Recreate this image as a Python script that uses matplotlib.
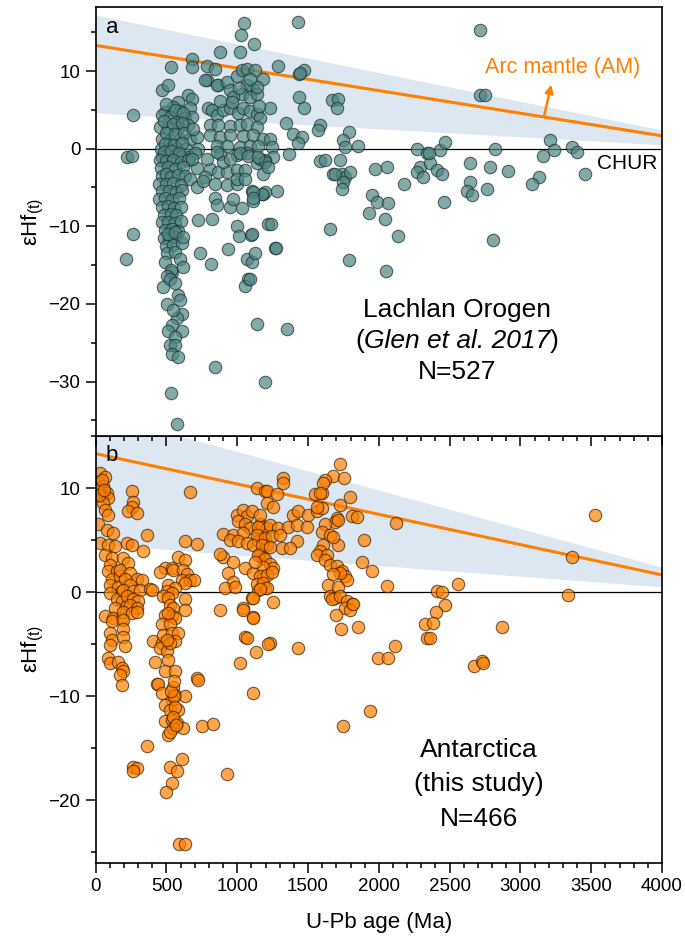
import numpy as np
import matplotlib
matplotlib.use('Agg')
import matplotlib.pyplot as plt
from matplotlib.ticker import MultipleLocator

plt.rcParams['font.family'] = ['Liberation Sans', 'DejaVu Sans']
plt.rcParams['mathtext.fontset'] = 'custom'
plt.rcParams['mathtext.rm'] = 'Liberation Sans'
plt.rcParams['mathtext.it'] = 'Liberation Sans:italic'

# ---- data: (U-Pb age Ma, eHf(t)) ----
# Lachlan Orogen (Glen et al. 2017)
lachlan_young = [(219, -1.1), (254, -0.95), (266, 4.3), (266, -11.0), (214, -14.2)]

lachlan_column = [
    (471, 7.6), (509, 8.2), (532, 10.5), (654, 6.9), (678, 6.4), (584, 6.0), (548, 5.4), (490, 4.7),
    (596, 4.9), (667, 5.2), (466, 4.3), (525, 4.1), (572, 3.6), (631, 3.9), (678, 4.1), (454, 2.8),
    (513, 2.6), (584, 2.6), (654, 3.0), (466, 1.3), (525, 1.1), (596, 1.3), (667, 1.3), (713, 1.5),
    (459, 0.0), (518, 0.0), (572, 0.0), (637, 0.0), (720, 0.0), (470, -1.1), (540, -1.1), (600, -1.1),
    (660, -1.1), (500, 5.8), (560, 5.0), (620, 4.6), (480, 3.5), (545, 3.2), (610, 3.3), (500, 2.0),
    (560, 1.9), (625, 2.0), (490, 0.6), (550, 0.5), (610, 0.7), (480, -0.4), (530, -0.3), (585, -0.5),
    (690, 2.5), (700, -0.6),
    (455, -1.5), (500, -1.6), (545, -1.4), (600, -1.7), (650, -1.5),
    (460, -2.5), (510, -2.4), (560, -2.6), (620, -2.4),
    (470, -3.5), (495, -3.3), (530, -3.6), (580, -3.4), (630, -3.5),
    (450, -4.5), (500, -4.6), (545, -4.4), (600, -4.7),
    (470, -5.5), (520, -5.4), (570, -5.6), (610, -5.3),
    (450, -6.5), (490, -6.4), (540, -6.6), (585, -6.3),
    (465, -7.5), (510, -7.4), (555, -7.6), (600, -7.5),
    (480, -8.5), (530, -8.4), (570, -8.6),
    (470, -9.5), (510, -9.4), (560, -9.6), (600, -9.3),
    (490, -10.5), (540, -10.4), (580, -10.6),
    (480, -11.5), (520, -11.6), (560, -11.4),
    (500, -12.5), (545, -12.4),
    (513, -11.0), (560, -10.7), (501, -13.5), (560, -13.3), (608, -12.2), (620, -11.4), (596, -14.2),
    (615, -15.3), (490, -14.6), (537, -15.9), (530, -15.6), (505, -16.4), (478, -17.8), (525, -16.8),
    (560, -17.3), (501, -20.0), (584, -18.9), (596, -19.5), (608, -21.3), (571, -21.8), (548, -20.8),
    (537, -22.7), (513, -23.5), (608, -23.5), (560, -24.2), (525, -25.3), (560, -25.3), (537, -26.4),
    (584, -26.8), (530, -31.5), (571, -35.4),
]

lachlan_meso = [
    (678, 11.6), (678, 10.5), (784, 10.7), (843, 10.3), (879, 12.4), (1020, 12.4), (1027, 14.6),
    (1048, 16.2), (1119, 13.5), (784, 8.9), (866, 8.2), (772, 8.9), (855, 8.2), (925, 8.6), (949, 7.5),
    (996, 9.4), (1032, 10.1), (1067, 10.3), (1126, 10.1), (1180, 9.0), (1114, 7.7), (1067, 8.2),
    (1032, 7.1), (973, 6.6), (1091, 6.6), (1138, 7.1), (1138, 7.9), (1291, 10.7),
    (796, 5.2), (820, 5.0), (855, 4.3), (902, 5.0), (949, 5.2), (1008, 4.6), (1043, 5.2), (1091, 4.8),
    (1138, 4.4), (1161, 4.0), (1232, 5.2), (880, 6.2), (960, 6.0), (1010, 7.8), (1090, 9.0), (1150, 5.5),
    (808, 3.0), (866, 3.1), (949, 2.9), (1020, 3.0), (1067, 3.2), (1138, 2.8),
    (808, 1.7), (878, 1.5), (949, 1.8), (1043, 1.6), (1114, 1.7), (1185, 1.3), (1232, 1.3),
    (855, 0.3), (925, 0.4), (1020, 0.2), (1091, 0.3), (1149, 0.4), (1244, 0.2),
    (878, -0.7), (996, -0.8), (1067, -0.6), (1255, -1.1),
    (713, -2.5), (808, -2.6), (866, -3.0), (925, -3.0), (996, -2.8), (1055, -2.7), (1137, -1.9),
    (1196, -1.5), (772, -3.7), (678, -1.3), (784, -1.3), (902, -1.7), (949, -1.3), (1020, -0.6),
    (1078, -0.9), (1161, -1.3), (855, -0.4), (1196, -1.7), (1149, -1.1), (1185, -3.2), (1220, -2.4),
    (667, -3.9), (713, -4.9), (761, -4.2), (843, -4.5), (925, -4.7), (996, -4.5), (996, -3.9),
    (1055, -3.9), (1102, -5.4), (1185, -5.8), (1279, -5.4), (1196, -5.6), (1173, -5.8), (1114, -5.6),
    (1114, -6.7), (843, -6.4), (855, -7.2), (949, -7.5), (1032, -7.7), (973, -6.5), (1114, -6.4),
    (1220, -9.7), (725, -9.2), (820, -9.1), (737, -13.5), (813, -14.8), (937, -12.9), (996, -10.0),
    (1013, -11.2), (1095, -11.1), (1067, -14.2), (1102, -14.6), (1126, -13.5), (1078, -16.8),
    (1055, -17.7), (1102, -11.0), (1142, -22.6), (1354, -23.2), (1267, -12.8), (843, -28.1),
    (1196, -30.0), (1237, -9.7), (1272, -12.8), (1091, -16.8),
]

lachlan_paleo = [
    (1432, 16.3), (1472, 10.1), (1437, 9.6), (1444, 9.7), (1439, 6.6), (1472, 5.2), (1346, 3.3),
    (1397, 1.9), (1456, 1.5), (1432, 0.7), (1368, -0.7), (1668, 6.3), (1708, 6.4), (1703, 5.2),
    (1585, 3.0), (1573, 2.4), (1792, 2.1), (1750, 1.1), (1762, 0.2), (1856, 0.3), (1585, -1.6),
    (1620, -1.5), (1727, -1.4), (1679, -3.3), (1739, -3.2), (1762, -3.7), (1797, -3.0), (1750, -4.3),
    (1739, -5.2), (1974, -2.6), (2061, -2.3), (2181, -4.5), (1950, -6.0), (1986, -6.9), (2068, -7.0),
    (1927, -8.3), (2045, -9.0), (2138, -11.2), (1656, -10.4), (1792, -14.3), (2050, -15.7), (1691, -3.2),
]

lachlan_archean = [
    (2268, 0.0), (2338, -0.6), (2292, -2.4), (2268, -3.0), (2313, -3.7), (2362, -1.9), (2410, -2.8),
    (2445, -3.2), (2431, -0.2), (2468, 0.9), (2351, -0.6), (2457, -6.9), (2716, 15.3), (2716, 6.9),
    (2751, 6.9), (3210, 1.1), (3234, -0.2), (3163, -0.9), (3364, 0.2), (3399, -0.4), (3458, -3.2),
    (3128, -3.6), (3081, -4.5), (2817, -0.1), (2782, -2.4), (2909, -2.9), (2767, -5.2), (2803, -11.7),
    (2645, -1.9), (2645, -4.3), (2622, -5.4), (2657, -6.0),
]

# Antarctica (this study)
antarctica_young = [
    (30, 11.4), (66, 11.1), (18, 10.6), (54, 10.2), (30, 9.8), (78, 9.5), (42, 9.2), (89, 9.0),
    (54, 8.6), (66, 7.9), (89, 7.4), (18, 6.5), (78, 6.0), (124, 5.7), (30, 4.7), (89, 4.5), (136, 4.4),
    (66, 3.6), (113, 3.3), (101, 2.6), (89, 2.0), (148, 2.0), (113, 1.3), (172, 1.5), (101, 0.7),
    (160, 0.5), (101, -0.1), (184, 0.1), (148, -0.7), (184, -0.9), (136, -1.5), (219, -1.2), (66, -2.3),
    (124, -2.5), (184, -2.5), (10, 10.0), (45, 10.8), (25, 9.3), (60, 9.8),
    (254, 9.7), (266, 8.7), (254, 8.2), (231, 7.8), (290, 7.6), (219, 4.7), (254, 4.5), (337, 3.9),
    (195, 3.3), (231, 2.8), (172, 2.1), (242, 1.8), (207, 1.3), (290, 1.3), (325, 1.2), (242, 0.7),
    (195, 0.2), (266, 0.1), (313, 0.2), (384, 0.3), (219, -0.4), (266, -0.7), (301, -0.9), (242, -1.2),
    (290, -1.5), (195, -1.9), (254, -2.0), (360, 5.5), (396, 0.2),
    (113, -2.8), (195, -2.7), (195, -3.5), (101, -3.9), (113, -4.6), (101, -5.1), (195, -4.3),
    (207, -5.2), (89, -6.3), (101, -6.8), (160, -6.7), (184, -7.3), (195, -7.6), (172, -8.0),
    (184, -8.9), (290, -1.9), (360, -14.8), (266, -16.8), (290, -16.9), (266, -17.2),
]

antarctica_pan = [
    (667, 9.6), (631, 4.9), (713, 4.6), (584, 3.4), (631, 3.1), (490, 2.3), (537, 2.3), (454, 1.9),
    (548, 2.1), (620, 2.1), (643, 1.7), (608, 1.2), (667, 1.2), (697, 1.2), (631, 0.9), (513, 0.7),
    (560, 0.4), (501, 0.1), (537, -0.1), (478, -0.4), (513, -0.6), (631, -0.7), (525, -1.2),
    (548, -1.5), (631, -1.7), (490, -2.2), (537, -2.3), (560, -2.5),
    (407, -4.7), (466, -4.9), (454, -5.4), (501, -5.7), (513, -6.5), (419, -6.7), (431, -8.8),
    (466, -3.1), (525, -3.1), (513, -2.0), (478, -4.1), (537, -3.9), (584, -3.9), (560, -4.7),
    (525, -4.9), (501, -4.6),
    (490, -7.6), (560, -7.6), (442, -8.8), (466, -9.7), (548, -9.1), (560, -9.9), (537, -10.4),
    (631, -10.0), (490, -10.8), (525, -11.3), (584, -11.3), (490, -12.4), (537, -12.3), (572, -12.6),
    (620, -13.1), (513, -13.7), (548, -13.1), (525, -13.4), (550, -10.0), (560, -11.0), (545, -12.0),
    (530, -9.5), (555, -8.5), (570, -12.8),
    (713, -8.3), (725, -8.4), (749, -12.9), (827, -12.7), (525, -16.8), (577, -17.2), (608, -16.0),
    (537, -18.3), (496, -19.2), (925, -17.5), (591, -24.2), (631, -24.2),
]

antarctica_meso = [
    (1138, 10.0), (1196, 9.7), (996, 7.4), (1043, 7.9), (1067, 7.3), (1008, 6.8), (1055, 6.5),
    (1091, 6.2), (1161, 6.5), (902, 5.6), (973, 5.5), (1043, 5.7), (1149, 5.8), (1185, 5.3), (949, 5.0),
    (1008, 4.9), (1067, 4.7), (1149, 4.9), (1208, 4.5), (902, 3.4), (973, 2.9), (1161, 3.7), (1185, 3.3),
    (1055, 2.3), (937, 1.8), (1114, 1.8), (1185, 1.5), (973, 1.0), (914, 0.4), (985, 0.5), (1149, 0.2),
    (1196, 0.4), (1102, -0.6), (1043, -1.5), (878, -1.7), (1114, -2.4), (878, 3.7),
    (1208, 9.7), (1279, 9.4), (1321, 11.0), (1321, 10.5), (1208, 8.6), (1255, 8.2), (1102, 7.8),
    (1161, 7.4), (1397, 7.4), (1432, 7.8), (1502, 7.4), (1562, 7.8), (1597, 8.1), (1550, 9.4),
    (1597, 9.5), (1173, 6.3), (1208, 6.2), (1232, 6.4), (1149, 6.3), (1290, 6.2), (1361, 6.3),
    (1420, 6.4), (1491, 6.3), (1138, 5.5), (1196, 5.2), (1244, 5.4), (1302, 5.5), (1420, 4.9),
    (1114, 4.5), (1173, 4.5), (1232, 4.3), (1314, 4.2), (1373, 4.2), (1149, 3.6), (1196, 3.2),
    (1232, 2.7), (1255, 2.3), (1185, 2.4), (1126, 2.9), (1161, 1.5), (1208, 1.6), (1244, 1.9),
    (1138, 0.8), (1185, 0.9), (1208, 0.4), (1161, 0.3), (1114, -0.6), (1255, -1.0), (1114, -2.5),
    (1232, -4.9), (1020, -6.8), (1114, -9.7), (1055, -4.3), (1072, -4.4), (1131, -5.8), (1220, -5.0),
    (1043, -1.7), (1432, -5.4),
]

antarctica_paleo = [
    (1727, 12.3), (1679, 11.2), (1757, 11.0), (1620, 10.8), (1604, 10.5), (1585, 9.5), (1797, 9.1),
    (1727, 8.4), (1562, 8.2), (1809, 7.3), (1845, 7.2), (1703, 7.1), (1691, 6.7), (1715, 6.9),
    (1620, 6.5), (1597, 5.8), (1656, 5.5), (1715, 4.5), (1609, 4.5), (1585, 3.9), (1562, 3.6),
    (1632, 3.6), (1620, 3.1), (1656, 2.6), (1703, 2.5), (1739, 2.0), (1762, 1.5), (1774, 1.2),
    (1727, 1.8), (1679, 1.7), (1644, 0.7), (1715, 0.5), (1656, -0.4), (1691, -0.6), (1667, -0.7),
    (1727, -0.4), (1774, -0.9), (1809, -1.1), (1762, -1.5), (1797, -1.7), (1821, -1.1), (1699, -2.2),
    (1731, -3.5), (1856, -3.4), (1679, 5.3), (1750, -12.9), (1940, -11.4),
]

antarctica_old = [
    (1892, 5.0), (1880, 2.9), (1950, 2.0), (2056, 0.6), (2122, 6.6), (2327, -3.1), (2339, -4.4),
    (3529, 7.4), (3364, 3.4), (3333, -0.3), (2556, 0.8), (2410, 0.1), (2445, 0.0), (2468, -1.2),
    (2405, -1.9), (2381, -3.0), (2358, -4.4), (2869, -3.4), (2115, -5.2), (1997, -6.3), (2068, -6.3),
    (2669, -7.1), (2727, -6.6), (2739, -6.8),
]

# arc mantle evolution line and its envelope
am_age = [0, 4000]
am_hf = [13.3, 1.65]
band_upper = [17.2, 2.4]
band_lower = [4.6, 0.5]

lachlan = np.array(lachlan_young + lachlan_column + lachlan_meso + lachlan_paleo + lachlan_archean)
antarctica = np.array(antarctica_young + antarctica_pan + antarctica_meso + antarctica_paleo + antarctica_old)


def style_axis(ax, ylim):
    ax.set_xlim(0, 4000)
    ax.set_ylim(*ylim)
    ax.fill_between(am_age, band_lower, band_upper, color='#dde7f2', lw=0, zorder=0)
    ax.plot(am_age, am_hf, color='#ff7f00', lw=2.2, zorder=1)
    ax.axhline(0, color='black', lw=0.9, zorder=1)
    ax.xaxis.set_major_locator(MultipleLocator(500))
    ax.xaxis.set_minor_locator(MultipleLocator(100))
    ax.yaxis.set_major_locator(MultipleLocator(10))
    ax.yaxis.set_minor_locator(MultipleLocator(5))
    ax.tick_params(which='major', length=7.5, width=1.1, labelsize=13.5)
    ax.tick_params(which='minor', length=3.5, width=1.1)
    ax.tick_params(top=False, right=False, which='both', direction='out')
    for s in ax.spines.values():
        s.set_linewidth(1.2)
    ax.set_ylabel(r'εHf$_{\mathrm{(t)}}$', fontsize=16, labelpad=2)


fig = plt.figure(figsize=(6.85, 9.41), dpi=100)
ax1 = fig.add_axes([0.1397, 0.5367, 0.8267, 0.4555])
ax2 = fig.add_axes([0.1397, 0.0832, 0.8267, 0.4535])
ax1.set_zorder(3)

style_axis(ax1, (-37, 18.2))
ax1.scatter(lachlan[:, 0], lachlan[:, 1], s=80, facecolor='#4e8683', alpha=0.7,
            edgecolor='#1e2e2e', linewidth=0.8, zorder=2)
ax1.tick_params(axis='x', labelbottom=False)
ax1.text(0.018, 0.952, 'a', transform=ax1.transAxes, fontsize=16, va='center')
ax1.text(3968, -1.9, 'CHUR', fontsize=15, ha='right', va='center')
ax1.text(3300, 10.5, 'Arc mantle (AM)', color='#ff7f00', fontsize=15.5, ha='center', va='center')
ax1.annotate('', xy=(3222, 8.6), xytext=(3165, 4.0),
             arrowprops=dict(arrowstyle='-|>', color='#ff7f00', lw=1.8, mutation_scale=12))
ax1.text(0.638, 0.295, 'Lachlan Orogen', transform=ax1.transAxes, fontsize=19, ha='center', va='center')
cite = ax1.text(0.638, 0.222, 'Glen et al. 2017', transform=ax1.transAxes, fontsize=19,
                style='italic', ha='center', va='center')
ax1.text(0.638, 0.149, 'N=527', transform=ax1.transAxes, fontsize=19, ha='center', va='center')

# brackets around the italic citation
fig.canvas.draw()
bb = cite.get_window_extent(fig.canvas.get_renderer())
inv = ax1.transAxes.inverted()
xl = inv.transform((bb.x0, 0))[0]
xr = inv.transform((bb.x1, 0))[0]
ax1.text(xl, 0.222, '(', transform=ax1.transAxes, fontsize=19, ha='right', va='center')
ax1.text(xr, 0.222, ')', transform=ax1.transAxes, fontsize=19, ha='left', va='center')

style_axis(ax2, (-26, 15))
ax2.scatter(antarctica[:, 0], antarctica[:, 1], s=80, facecolor='#ff8000', alpha=0.7,
            edgecolor='#3a2000', linewidth=0.8, zorder=2)
ax2.text(0.018, 0.955, 'b', transform=ax2.transAxes, fontsize=16, va='center')
ax2.text(0.676, 0.263, 'Antarctica', transform=ax2.transAxes, fontsize=19, ha='center', va='center')
ax2.text(0.676, 0.185, '(this study)', transform=ax2.transAxes, fontsize=19, ha='center', va='center')
ax2.text(0.676, 0.103, 'N=466', transform=ax2.transAxes, fontsize=19, ha='center', va='center')
ax2.set_xlabel('U-Pb age (Ma)', fontsize=16, labelpad=12)

fig.savefig('out.png', dpi=100)
